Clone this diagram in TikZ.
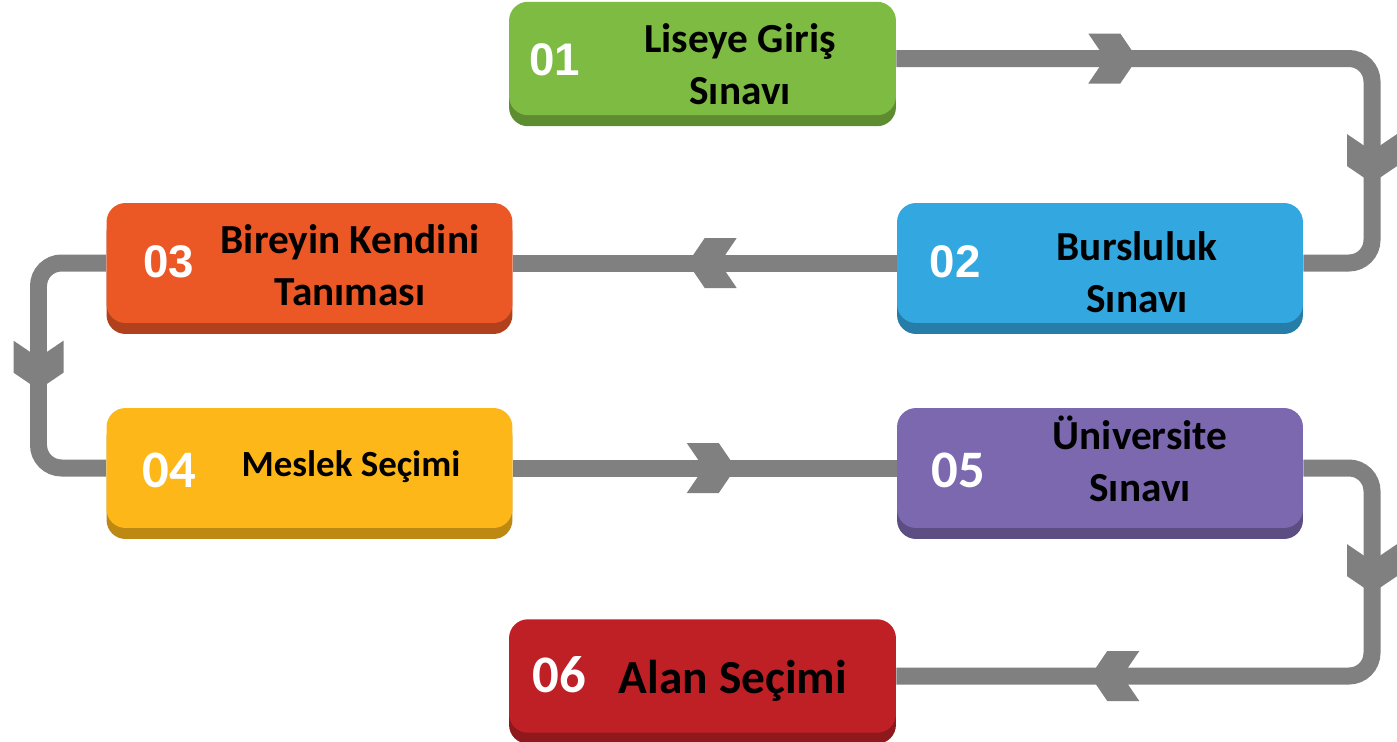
\documentclass[tikz,border=0pt]{standalone}
\usepackage{fontspec}
\setmainfont{Carlito}
\newfontfamily\arialfont{Liberation Sans}
\usetikzlibrary{shadows,decorations.markings,backgrounds}

\definecolor{stgreen}{HTML}{7DBB42}
\definecolor{stblue}{HTML}{33A8E0}
\definecolor{storange}{HTML}{EC5726}
\definecolor{styellow}{HTML}{FDB718}
\definecolor{stpurple}{HTML}{7B68AE}
\definecolor{stred}{HTML}{BE2026}
\definecolor{linegray}{HTML}{808080}

\begin{document}
\begin{tikzpicture}[x=0.02cm,y=-0.02cm,
    stage/.style={fill=#1, rounded corners=0.38cm, inner sep=0pt,
      minimum width=8.12cm, minimum height=2.4cm,
      general shadow={fill=#1!75!black, shadow yshift=-0.22cm}},
    small/.style={minimum width=7.74cm, minimum height=2.27cm},
    lbl/.style={font=\bfseries\fontsize{23.5}{29.5}\selectfont, align=center, inner sep=0pt},
    num/.style={font=\arialfont\bfseries\fontsize{26}{30}\selectfont, text=white, inner sep=0pt},
    numc/.style={num, font=\bfseries\fontsize{30}{34}\selectfont},
    conn/.style={draw=linegray, line width=0.34cm, rounded corners=0.46cm},
    chev/.style={postaction={decorate, decoration={markings,
      mark=at position #1 with {\fill[linegray, sharp corners] (0,0) -- (-17,25) -- (-49,25)
        -- (-32,0) -- (-49,-25) -- (-17,-25) -- cycle;}}}}]
  \useasboundingbox (0,0) rectangle (1397,741);

  % stages
  \node[stage=stgreen, small] (g01) at (702.5,58.5) {};
  \node[stage=stblue] (b02) at (1100,263) {};
  \node[stage=storange] (o03) at (309.5,263) {};
  \node[stage=styellow] (y04) at (309.5,468) {};
  \node[stage=stpurple] (p05) at (1100,468) {};
  \node[stage=stred, small] (r06) at (702.5,676) {};

  % numbers
  \node[num] (n01) at (555,60) {01};
  \node[num] (n02) at (955,262) {02};
  \node[num] (n03) at (169,262) {03};
  \node[numc] (n04) at (169,470) {04};
  \node[numc] (n05) at (958,470) {05};
  \node[numc] (n06) at (559,675) {06};

  % texts
  \node[lbl] (t01) at (740,64) {Liseye Giriş\\Sınavı};
  \node[lbl] (t02) at (1137,272) {Bursluluk\\Sınavı};
  \node[lbl] (t03) at (350,265) {Bireyin Kendini\\Tanıması};
  \node[lbl, font=\bfseries\fontsize{21}{29}\selectfont] (t04) at (351,467) {Meslek Seçimi};
  \node[lbl] (t05) at (1140,459) {Üniversite\\Sınavı};
  \node[lbl, font=\bfseries\fontsize{27}{30}\selectfont] (t06) at (733,681) {Alan Seçimi};

  \coordinate (bend1) at (1372,160);
  \coordinate (bend3) at (38.5,360);
  \coordinate (bend5) at (1372,570);

  \begin{scope}[on background layer]
    \draw[conn, chev=4.82cm, chev=11.81cm] (g01.east) -| (bend1) |- (b02.east);
    \draw[conn, chev=4.18cm] (b02.west) -- (o03.east);
    \draw[conn, chev=3.69cm] (o03.west) -| (bend3) |- (y04.west);
    \draw[conn, chev=4.46cm] (y04.east) -- (p05.west);
    \draw[conn, chev=3.68cm, chev=-3.88cm] (p05.east) -| (bend5) |- (r06.east);
  \end{scope}
\end{tikzpicture}
\end{document}
